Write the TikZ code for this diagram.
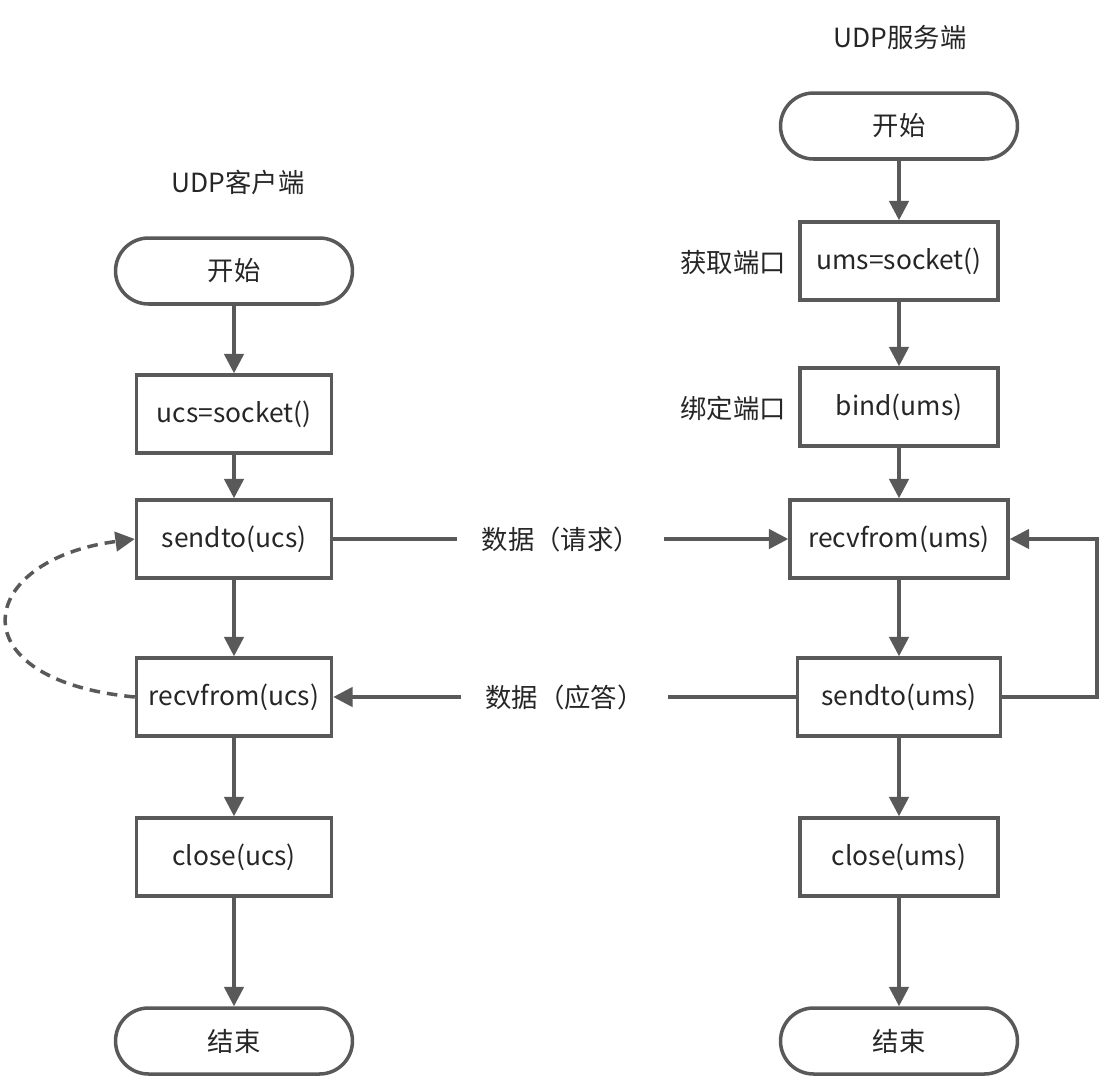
\documentclass[tikz,border=0pt]{standalone}
\usepackage{fontspec}
\setmainfont{Noto Sans CJK SC}
\usetikzlibrary{arrows.meta}
\definecolor{ln}{HTML}{595959}
\begin{document}
\begin{tikzpicture}[x=0.02cm,y=-0.02cm,
  every node/.style={font=\fontsize{15}{17}\selectfont, text=black!85},
  box/.style={draw=ln, line width=2pt, minimum width=3.9cm, minimum height=1.56cm, inner sep=0pt},
  term/.style={draw=ln, line width=2pt, rounded corners=0.66cm, minimum width=4.74cm, minimum height=1.32cm},
  arr/.style={draw=ln, line width=2pt, -{Triangle[length=11pt,width=11pt]}},
  lbl/.style={fill=white, inner xsep=14pt}]
\useasboundingbox (0,0) rectangle (1102,1082);
\node at (238,182) {UDP客户端};
\node at (900,37) {UDP服务端};
\node[term] (ls) at (234,271) {开始};
\node[box] (l1) at (234,414) {ucs=socket()};
\node[box] (l2) at (234,539) {sendto(ucs)};
\node[box] (l3) at (234,697) {recvfrom(ucs)};
\node[box] (l4) at (234,857) {close(ucs)};
\node[term] (le) at (234,1041) {结束};
\node[term] (rs) at (899,126) {开始};
\node[box,minimum width=3.96cm] (r1) at (899,261) {ums=socket()};
\node[box,minimum width=3.96cm] (r2) at (899,407) {bind(ums)};
\node[box,minimum width=4.36cm] (r3) at (899,539) {recvfrom(ums)};
\node[box,minimum width=4.06cm] (r4) at (899,697) {sendto(ums)};
\node[box,minimum width=3.96cm] (r5) at (899,857) {close(ums)};
\node[term] (re) at (899,1041) {结束};
\node at (733,263) {获取端口};
\node at (733,408) {绑定端口};
\draw[arr] (ls) -- (l1);
\draw[arr] (l1) -- (l2);
\draw[arr] (l2) -- (l3);
\draw[arr] (l3) -- (l4);
\draw[arr] (l4) -- (le);
\draw[arr] (rs) -- (r1);
\draw[arr] (r1) -- (r2);
\draw[arr] (r2) -- (r3);
\draw[arr] (r3) -- (r4);
\draw[arr] (r4) -- (r5);
\draw[arr] (r5) -- (re);
\draw[arr] (l2) -- node[lbl] {数据（请求）} (r3);
\draw[arr] (r4) -- node[lbl] {数据（应答）} (l3);
\coordinate (c1) at (1097,697);
\coordinate (c2) at (1097,539);
\draw[arr] (r4.east) -- (c1) -- (c2) -- (r3.east);
\draw[arr, dashed, dash pattern=on 6pt off 4pt] (l3.west) .. controls (-45,680) and (-25,560) .. (l2.west);
\end{tikzpicture}
\end{document}
